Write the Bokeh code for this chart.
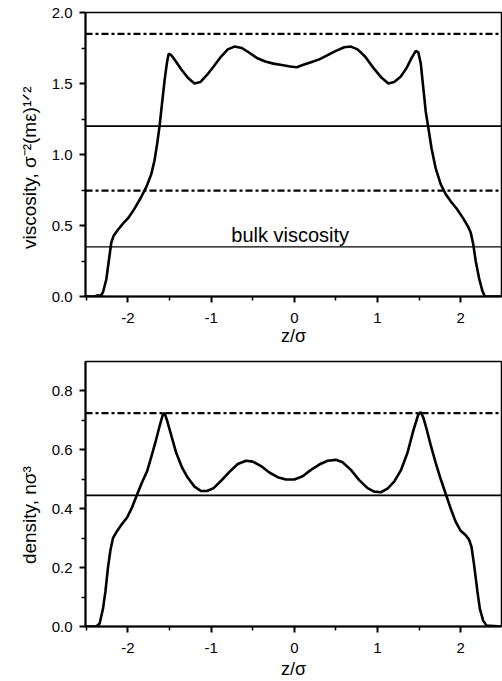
from bokeh.plotting import figure
from bokeh.layouts import column
from bokeh.models import FixedTicker, Span, Range1d
from bokeh.core.properties import value
from bokeh.embed import file_html
from bokeh.resources import INLINE

# ---------------- data ----------------
visc_z = [-2.51, -2.40, -2.36, -2.33, -2.30, -2.26, -2.23, -2.20, -2.17, -2.12, -2.05, -2.00,
          -1.93, -1.85, -1.78, -1.72, -1.68, -1.65, -1.62, -1.59, -1.56, -1.53, -1.51, -1.48,
          -1.43, -1.36, -1.28, -1.20, -1.13, -1.05, -0.97, -0.88, -0.80, -0.72, -0.63, -0.55,
          -0.45, -0.35, -0.25, -0.15, -0.05, 0.03, 0.10, 0.20, 0.30, 0.40, 0.50, 0.60, 0.68,
          0.76, 0.85, 0.95, 1.05, 1.13, 1.20, 1.28, 1.35, 1.41, 1.46, 1.49, 1.52, 1.55, 1.58,
          1.61, 1.65, 1.70, 1.76, 1.82, 1.88, 1.95, 2.03, 2.09, 2.12, 2.15, 2.18, 2.22, 2.26,
          2.29, 2.49]
visc_v = [0.0, 0.0, 0.01, 0.0, 0.03, 0.12, 0.25, 0.38, 0.43, 0.47, 0.52, 0.55,
          0.61, 0.69, 0.77, 0.86, 0.96, 1.07, 1.20, 1.36, 1.52, 1.65, 1.71, 1.70,
          1.66, 1.60, 1.54, 1.50, 1.51, 1.56, 1.62, 1.69, 1.74, 1.76, 1.75, 1.72,
          1.68, 1.655, 1.64, 1.63, 1.62, 1.615, 1.63, 1.65, 1.67, 1.70, 1.73, 1.755, 1.76,
          1.74, 1.69, 1.61, 1.54, 1.50, 1.51, 1.55, 1.61, 1.68, 1.73, 1.72, 1.64, 1.47, 1.30,
          1.19, 1.04, 0.90, 0.79, 0.72, 0.67, 0.62, 0.55, 0.49, 0.45, 0.37, 0.25, 0.13, 0.04,
          0.0, 0.0]

dens_z = [-2.51, -2.38, -2.34, -2.30, -2.27, -2.24, -2.21, -2.18, -2.14, -2.08, -2.01, -1.95,
          -1.89, -1.83, -1.77, -1.72, -1.67, -1.62, -1.58, -1.56, -1.53, -1.48, -1.42, -1.35,
          -1.28, -1.20, -1.12, -1.05, -0.97, -0.88, -0.78, -0.68, -0.58, -0.50, -0.40, -0.30,
          -0.20, -0.10, 0.00, 0.10, 0.20, 0.30, 0.40, 0.50, 0.58, 0.68, 0.78, 0.88, 0.96,
          1.04, 1.12, 1.20, 1.28, 1.36, 1.43, 1.49, 1.52, 1.55, 1.59, 1.64, 1.70, 1.76, 1.82,
          1.88, 1.94, 2.00, 2.06, 2.10, 2.13, 2.16, 2.20, 2.23, 2.27, 2.31, 2.49]
dens_n = [0.0, 0.0, 0.01, 0.06, 0.12, 0.20, 0.26, 0.30, 0.32, 0.345, 0.37, 0.405,
          0.448, 0.49, 0.527, 0.575, 0.625, 0.68, 0.72, 0.725, 0.70, 0.65, 0.59, 0.54,
          0.505, 0.475, 0.46, 0.46, 0.47, 0.495, 0.525, 0.552, 0.563, 0.56, 0.545, 0.523,
          0.507, 0.499, 0.499, 0.51, 0.532, 0.55, 0.563, 0.566, 0.558, 0.532, 0.497, 0.47, 0.458,
          0.456, 0.468, 0.492, 0.53, 0.59, 0.665, 0.72, 0.728, 0.71, 0.67, 0.615, 0.555, 0.50, 0.45,
          0.40, 0.355, 0.325, 0.31, 0.295, 0.27, 0.21, 0.12, 0.06, 0.02, 0.003, 0.0]

visc_dashdot_levels = [1.85, 0.745]
visc_solid_level = 1.2
bulk_viscosity = 0.35
dens_dashdot_level = 0.725
dens_solid_level = 0.445

x_ticks = [-2, -1, 0, 1, 2]
x_tick_labels = ["-2", "-1", "0", "1", "2"]
x_minor = [-2.5, -1.5, -0.5, 0.5, 1.5, 2.5]
visc_ticks = [0.0, 0.5, 1.0, 1.5, 2.0]
visc_tick_labels = ["0.0", "0.5", "1.0", "1.5", "2.0"]
visc_minor = [0.25, 0.75, 1.25, 1.75]
dens_ticks = [0.0, 0.2, 0.4, 0.6, 0.8]
dens_tick_labels = ["0.0", "0.2", "0.4", "0.6", "0.8"]
dens_minor = [0.1, 0.3, 0.5, 0.7]

FONT = "Liberation Sans"
DASHDOT = "7 3 3 3"
NBSP = "\u00a0"


def style(p, yticks, ylabels, yminor, ylabel):
    p.xgrid.visible = False
    p.ygrid.visible = False
    p.outline_line_color = "black"
    p.outline_line_width = 1.5
    p.background_fill_color = "white"
    p.border_fill_color = "white"
    p.xaxis.ticker = FixedTicker(ticks=x_ticks, minor_ticks=x_minor)
    p.xaxis.major_label_overrides = {t: l for t, l in zip(x_ticks, x_tick_labels)}
    p.yaxis.ticker = FixedTicker(ticks=yticks, minor_ticks=yminor)
    p.yaxis.major_label_overrides = {t: l for t, l in zip(yticks, ylabels)}
    for ax in (p.xaxis[0], p.yaxis[0]):
        ax.axis_line_width = 2
        ax.axis_line_color = "black"
        ax.major_tick_line_width = 2
        ax.minor_tick_line_width = 1.5
        ax.major_tick_out = 6
        ax.major_tick_in = 0
        ax.minor_tick_out = 4
        ax.minor_tick_in = 0
        ax.major_label_text_font = FONT
        ax.major_label_text_font_size = "15px"
        ax.major_label_text_color = "black"
        ax.axis_label_text_font = FONT
        ax.axis_label_text_font_style = "normal"
        ax.axis_label_text_color = "black"
    p.xaxis.axis_label = "z/σ"
    p.xaxis.axis_label_text_font_size = "18px"
    p.xaxis.major_label_standoff = 10
    p.xaxis.axis_label_standoff = 0
    p.yaxis.axis_label = ylabel
    p.yaxis.axis_label_text_font_size = "19px"
    p.yaxis.major_label_standoff = 7
    p.yaxis.axis_label_standoff = 9


W = 502
p1 = figure(width=W, height=348, output_backend="svg", toolbar_location=None,
            x_range=Range1d(-2.51, 2.49), y_range=Range1d(0, 2.0),
            min_border_left=85, min_border_right=1, min_border_top=12, min_border_bottom=50)
style(p1, visc_ticks, visc_tick_labels, visc_minor, "viscosity, σ⁻²(mε)¹ᐟ²" + NBSP * 5)

for lev in visc_dashdot_levels:
    p1.add_layout(Span(location=lev, dimension="width", line_color="black",
                       line_width=2.2, line_dash=DASHDOT))
p1.add_layout(Span(location=visc_solid_level, dimension="width", line_color="black", line_width=1.8))
p1.add_layout(Span(location=bulk_viscosity, dimension="width", line_color="black", line_width=1.2))
p1.line(visc_z, visc_v, line_color="black", line_width=2.6)
p1.text(x=[-0.05], y=[bulk_viscosity + 0.08], text=["bulk viscosity"],
        text_font=value(FONT), text_font_size="20px", text_align="center",
        text_baseline="alphabetic", text_color="black")

p2 = figure(width=W, height=333, output_backend="svg", toolbar_location=None,
            x_range=Range1d(-2.51, 2.49), y_range=Range1d(0, 0.9),
            min_border_left=85, min_border_right=1, min_border_top=13, min_border_bottom=55)
style(p2, dens_ticks, dens_tick_labels, dens_minor, "density, nσ³" + NBSP * 8)
p2.xaxis.major_label_standoff = 10
p2.xaxis.axis_label_standoff = 3

p2.add_layout(Span(location=dens_dashdot_level, dimension="width", line_color="black",
                   line_width=2.2, line_dash=DASHDOT))
p2.add_layout(Span(location=dens_solid_level, dimension="width", line_color="black", line_width=1.8))
p2.line(dens_z, dens_n, line_color="black", line_width=2.6)

layout = column(p1, p2, spacing=0)
open("out.html", "w").write(file_html(layout, INLINE))
